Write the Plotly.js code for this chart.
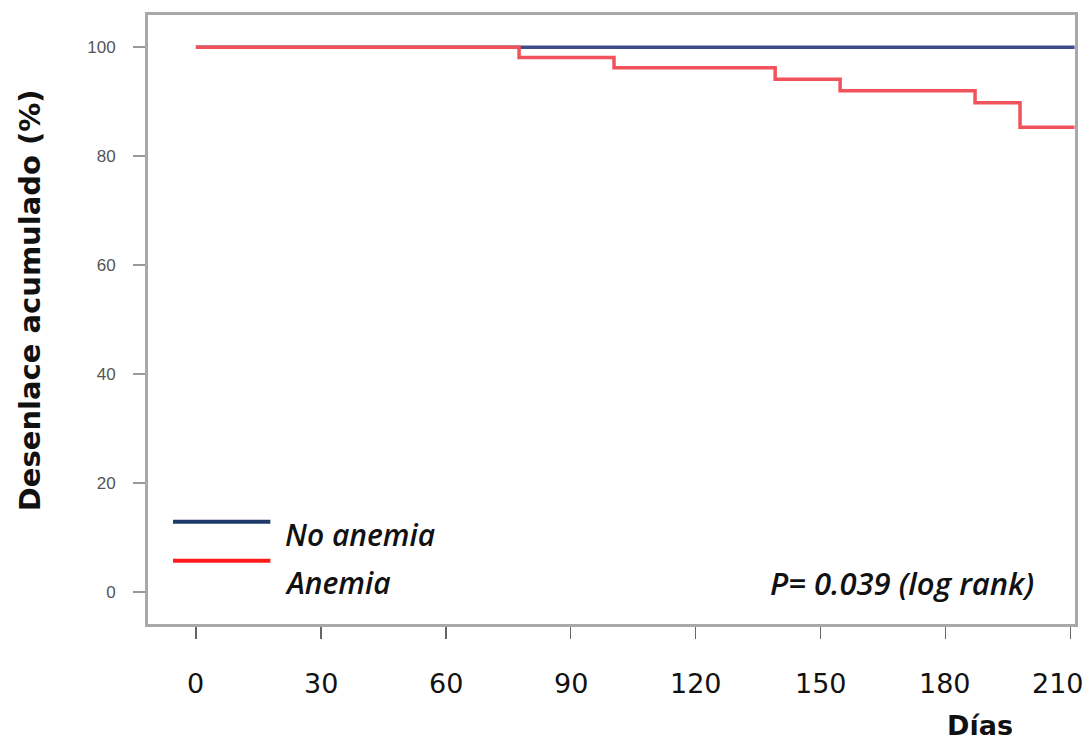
<!DOCTYPE html>
<html>
<head>
<meta charset="utf-8">
<script src="https://cdn.plot.ly/plotly-3.0.1.min.js"></script>
<style>html,body{margin:0;padding:0;background:#fff;}#chart{width:1084px;height:749px;}</style>
</head>
<body>
<div id="chart"></div>
<script>
// Data
const seriesNames = ["No anemia", "Anemia"];
const noAnemiaDays = [0, 211];
const noAnemiaPct = [100, 100];
const anemiaDays = [0, 77.6, 100.4, 139.1, 154.7, 187.1, 197.9, 211];
const anemiaPct = [100, 98.1, 96.2, 94.1, 92.0, 89.8, 85.3, 85.3];
const xTickVals = [0, 30, 60, 90, 120, 150, 180, 210];
const xTickText = ["0", "30", "60", "90", "120", "150", "180", "210"];
const yTickVals = [0, 20, 40, 60, 80, 100];
const xTitle = "Días";
const yTitle = "Desenlace acumulado (%)";
const pText = "P= 0.039 (log rank)";

const colBlue = "#3f4b8a";
const colRed = "#f2525b";

const traces = [
  {x: noAnemiaDays, y: noAnemiaPct, name: seriesNames[0], mode: "lines",
   line: {color: colBlue, width: 3.5, shape: "hv"}, showlegend: false},
  {x: anemiaDays, y: anemiaPct, name: seriesNames[1], mode: "lines",
   line: {color: colRed, width: 3.5, shape: "hv"}, showlegend: false}
];

const tickFont = {family: "DejaVu Sans, sans-serif", size: 27, color: "#111"};
const italicFont = {family: "Open Sans, Arial, sans-serif", size: 30, color: "#111", style: "italic", weight: 600};

const annotations = [
  {xref: "paper", yref: "paper", x: 0.146, y: 0.147, xanchor: "left", yanchor: "middle",
   text: seriesNames[0], showarrow: false, font: italicFont},
  {xref: "paper", yref: "paper", x: 0.146, y: 0.068, xanchor: "left", yanchor: "middle",
   text: seriesNames[1], showarrow: false, font: italicFont},
  {xref: "paper", yref: "paper", x: 0.958, y: 0.068, xanchor: "right", yanchor: "middle",
   text: pText, showarrow: false, font: Object.assign({}, italicFont, {size: 31})},
  {xref: "paper", yref: "paper", x: 0.897, y: -0.166, xanchor: "center", yanchor: "middle",
   text: xTitle, showarrow: false,
   font: {family: "DejaVu Sans, sans-serif", size: 27, color: "#111", weight: 700}},
  {xref: "paper", yref: "paper", x: -0.127, y: 0.532, xanchor: "center", yanchor: "middle",
   textangle: -90, text: yTitle, showarrow: false,
   font: {family: "DejaVu Sans, sans-serif", size: 29, color: "#111", weight: 700}}
];
// x tick labels placed on the x axis scale
xTickVals.forEach((v, i) => {
  const last = i === xTickVals.length - 1;
  annotations.push({
    xref: "x", yref: "paper", x: v, y: -0.097, xanchor: "center", yanchor: "middle",
    xshift: last ? -12 : 0, text: xTickText[i], showarrow: false, font: tickFont
  });
});

const layout = {
  width: 1084, height: 749,
  margin: {l: 148, r: 9, t: 15, b: 125},
  paper_bgcolor: "#fff", plot_bgcolor: "#fff",
  xaxis: {
    range: [-11.5, 211.1], tickvals: xTickVals, ticks: "outside", ticklen: 12,
    tickcolor: "#666", tickwidth: 1.5, showgrid: false, zeroline: false,
    showline: true, mirror: true, linecolor: "#a8a8a8", linewidth: 3,
    showticklabels: false
  },
  yaxis: {
    range: [-5.9, 105.9], tickvals: yTickVals, ticks: "outside", ticklen: 12,
    tickcolor: "#999", tickwidth: 1.5, showgrid: false, zeroline: false,
    showline: true, mirror: true, linecolor: "#a8a8a8", linewidth: 3,
    ticklabelstandoff: 14,
    tickfont: {family: "Liberation Sans, Arial, sans-serif", size: 17, color: "#555"}
  },
  shapes: [
    {type: "line", xref: "paper", yref: "paper", x0: 0.027, x1: 0.132, y0: 0.168, y1: 0.168,
     line: {color: "#1f3a68", width: 4}},
    {type: "line", xref: "paper", yref: "paper", x0: 0.027, x1: 0.132, y0: 0.104, y1: 0.104,
     line: {color: "#ff1a1a", width: 4}}
  ],
  annotations: annotations
};

Plotly.newPlot("chart", traces, layout, {displayModeBar: false, staticPlot: true});
</script>
</body>
</html>
